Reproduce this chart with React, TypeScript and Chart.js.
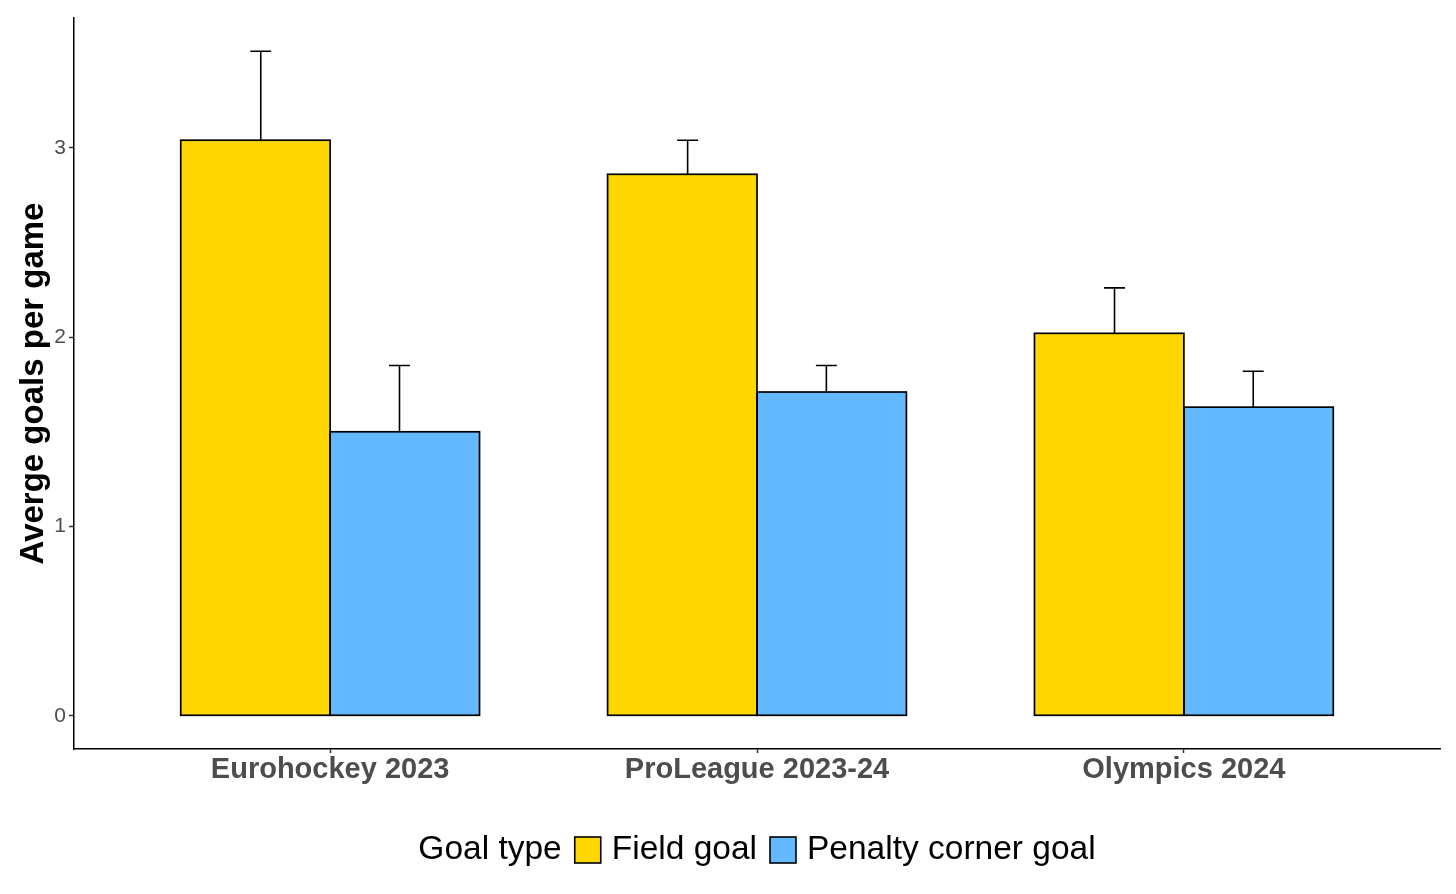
import React, { useEffect, useRef } from "react";
import { Chart, registerables } from "chart.js";

Chart.register(...registerables);

const categories = ["Eurohockey 2023", "ProLeague 2023-24", "Olympics 2024"];
const seriesNames = ["Field goal", "Penalty corner goal"];
const fieldGoal = [3.04, 2.86, 2.02];
const fieldGoalUpper = [3.51, 3.04, 2.26];
const penaltyCornerGoal = [1.5, 1.71, 1.63];
const penaltyCornerGoalUpper = [1.85, 1.85, 1.82];
const yTicks = [0, 1, 2, 3];
const legendTitle = "Goal type";
const yTitle = "Averge goals per game";
const seriesColors = ["#FFD700", "#63B8FF"];

const FONT = "'Liberation Sans', Arial, Helvetica, sans-serif";

// Centered outlines (ggplot-like), drawn on the bar elements computed by Chart.js
const barOutlinePlugin = {
  id: "barOutline",
  afterDatasetsDraw(chart: any) {
    const { ctx } = chart;
    ctx.save();
    ctx.strokeStyle = "#000000";
    ctx.lineWidth = 1.7;
    chart.data.datasets.forEach((_: any, di: number) => {
      const meta = chart.getDatasetMeta(di);
      meta.data.forEach((el: any) => {
        const { x, y, base, width } = el.getProps(["x", "y", "base", "width"], true);
        ctx.strokeRect(x - width / 2, Math.min(y, base), width, Math.abs(base - y));
      });
    });
    ctx.restore();
  },
};

const errorBarPlugin = {
  id: "errorBars",
  afterDatasetsDraw(chart: any) {
    const { ctx, scales } = chart;
    const xs = scales.x;
    const ys = scales.y;
    const uppers = [fieldGoalUpper, penaltyCornerGoalUpper];
    const values = [fieldGoal, penaltyCornerGoal];
    const dodge = [-0.1625, 0.1625];
    const capHalf = 0.0245;
    ctx.save();
    ctx.strokeStyle = "#000000";
    ctx.lineWidth = 1.6;
    for (let d = 0; d < 2; d++) {
      for (let j = 0; j < categories.length; j++) {
        const cx = j + 1 + dodge[d];
        const x = xs.getPixelForValue(cx);
        const xl = xs.getPixelForValue(cx - capHalf);
        const xr = xs.getPixelForValue(cx + capHalf);
        const y0 = ys.getPixelForValue(values[d][j]);
        const y1 = ys.getPixelForValue(uppers[d][j]);
        ctx.beginPath();
        ctx.moveTo(x, y0);
        ctx.lineTo(x, y1);
        ctx.moveTo(xl, y1);
        ctx.lineTo(xr, y1);
        ctx.stroke();
      }
    }
    ctx.restore();
  },
};

const legendPlugin = {
  id: "customLegend",
  afterDraw(chart: any) {
    const { ctx, chartArea } = chart;
    const fontSize = 33.5;
    const box = 26;
    const cy = 850;
    ctx.save();
    ctx.font = `${fontSize}px ${FONT}`;
    ctx.textBaseline = "middle";
    ctx.textAlign = "left";
    ctx.fillStyle = "#000000";
    const wTitle = ctx.measureText(legendTitle).width;
    const wItems = seriesNames.map((s) => ctx.measureText(s).width);
    const gapBefore = 13;
    const gapAfter = 11;
    let total = wTitle;
    wItems.forEach((w) => (total += gapBefore + box + gapAfter + w));
    let x = (chartArea.left + chartArea.right) / 2 - total / 2;
    ctx.fillText(legendTitle, x, cy);
    x += wTitle;
    seriesNames.forEach((s, i) => {
      x += gapBefore;
      ctx.fillStyle = seriesColors[i];
      ctx.fillRect(x, cy - box / 2, box, box);
      ctx.strokeStyle = "#000000";
      ctx.lineWidth = 1.6;
      ctx.strokeRect(x, cy - box / 2, box, box);
      x += box + gapAfter;
      ctx.fillStyle = "#000000";
      ctx.fillText(s, x, cy);
      x += wItems[i];
    });
    ctx.restore();
  },
};

export default function App() {
  const canvasRef = useRef<HTMLCanvasElement | null>(null);

  useEffect(() => {
    if (!canvasRef.current) return;
    const allMax = Math.max(...fieldGoalUpper, ...penaltyCornerGoalUpper);
    const expand = allMax * 0.05;
    const chart = new Chart(canvasRef.current, {
      type: "bar",
      data: {
        datasets: [
          {
            label: seriesNames[0],
            data: fieldGoal.map((v, i) => ({ x: i + 1, y: v })),
            backgroundColor: seriesColors[0],
            borderWidth: 0,
            inflateAmount: 0,
          },
          {
            label: seriesNames[1],
            data: penaltyCornerGoal.map((v, i) => ({ x: i + 1, y: v })),
            backgroundColor: seriesColors[1],
            borderWidth: 0,
            inflateAmount: 0,
          },
        ],
      },
      options: {
        responsive: false,
        animation: false,
        devicePixelRatio: 1,
        layout: { padding: { top: 18, right: 16, left: 0, bottom: 95 } },
        datasets: {
          bar: { categoryPercentage: 0.7, barPercentage: 1.0 },
        },
        plugins: {
          legend: { display: false },
          tooltip: { enabled: false },
          title: { display: false },
        },
        scales: {
          x: {
            type: "linear",
            min: 0.4,
            max: 3.6,
            offset: false,
            afterBuildTicks: (scale: any) => {
              scale.ticks = categories.map((_, i) => ({ value: i + 1 }));
            },
            afterFit: (scale: any) => {
              scale.height = 50;
            },
            ticks: {
              autoSkip: false,
              maxRotation: 0,
              padding: 2,
              color: "#4d4d4d",
              font: { family: FONT, size: 29, weight: "bold", lineHeight: 1 },
              callback: (v: any) => {
                const idx = Math.round(Number(v)) - 1;
                return categories[idx] ?? "";
              },
            },
            grid: {
              offset: false,
              drawOnChartArea: false,
              drawTicks: true,
              tickLength: 4,
              tickColor: "#333333",
              tickWidth: 1.5,
            },
            border: { display: true, color: "#000000", width: 1.5 },
          },
          y: {
            type: "linear",
            min: -expand,
            max: allMax + expand,
            afterBuildTicks: (scale: any) => {
              scale.ticks = yTicks.map((v) => ({ value: v }));
            },
            afterFit: (scale: any) => {
              scale.width = 74;
            },
            ticks: {
              padding: 3,
              color: "#4d4d4d",
              font: { family: FONT, size: 21 },
              callback: (v: any) => String(v),
            },
            grid: {
              drawOnChartArea: false,
              drawTicks: true,
              tickLength: 5,
              tickColor: "#333333",
              tickWidth: 1.5,
            },
            border: { display: true, color: "#000000", width: 1.5 },
            title: {
              display: true,
              text: yTitle,
              color: "#000000",
              font: { family: FONT, size: 33, weight: "bold", lineHeight: 1.2 },
              padding: { top: 14, bottom: 0 },
            },
          },
        },
      } as any,
      plugins: [barOutlinePlugin, errorBarPlugin, legendPlugin],
    });
    return () => chart.destroy();
  }, []);

  return (
    <div
      style={{
        position: "absolute",
        left: 0,
        top: 0,
        width: 1456,
        height: 894,
        background: "#ffffff",
      }}
    >
      <canvas
        ref={canvasRef}
        width={1456}
        height={894}
        style={{ width: 1456, height: 894, display: "block" }}
      />
    </div>
  );
}
